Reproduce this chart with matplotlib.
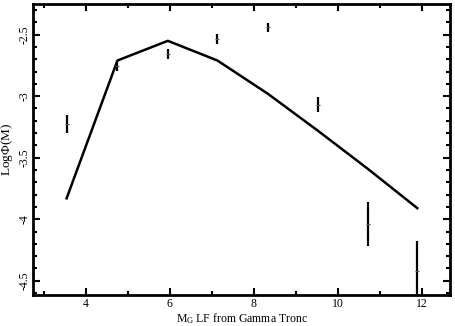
import matplotlib
matplotlib.use('Agg')
import matplotlib.pyplot as plt
import matplotlib.ticker as mticker

plt.rcParams.update({'font.family': 'Liberation Serif', 'font.size': 8,
                     'mathtext.fontset': 'custom', 'mathtext.rm': 'Liberation Serif',
                     'mathtext.it': 'Liberation Serif'})

# model LF (solid line)
line_x = [3.54, 4.75, 5.95, 7.13, 8.33, 9.52, 10.71, 11.89]
line_y = [-3.83, -2.71, -2.55, -2.71, -2.98, -3.28, -3.59, -3.91]

# observed points with error bars
pt_x = [3.55, 4.75, 5.95, 7.13, 8.33, 9.52, 10.71, 11.89]
pt_y = [-3.225, -2.752, -2.655, -2.535, -2.441, -3.068, -4.04, -4.418]
pt_err = [0.072, 0.04, 0.04, 0.037, 0.034, 0.063, 0.18, 0.24]

fig = plt.figure(figsize=(4.56, 3.26), dpi=100)
ax = fig.add_axes([0.0724, 0.095, 0.9146, 0.893])

ax.plot(line_x, line_y, color='black', lw=1.8)
ax.errorbar(pt_x, pt_y, yerr=pt_err, fmt='_', color='#555555', ms=3, mew=0.8,
            ecolor='black', elinewidth=1.6, capsize=0)

ax.set_xlim(2.74, 12.67)
ax.set_ylim(-4.616, -2.25)
ax.xaxis.set_major_locator(mticker.MultipleLocator(2))
ax.xaxis.set_minor_locator(mticker.MultipleLocator(1))
ax.yaxis.set_major_locator(mticker.MultipleLocator(0.5))
ax.yaxis.set_minor_locator(mticker.MultipleLocator(0.1))
ax.yaxis.set_major_formatter(mticker.FuncFormatter(lambda v, p: '%g' % v))
ax.tick_params(which='both', direction='in', top=True, right=True, width=1.5)
ax.tick_params(which='major', length=5, labelsize=8.5, pad=2)
ax.tick_params(which='minor', length=3)
for lab in ax.get_yticklabels():
    lab.set_rotation(90)
    lab.set_va('center')
for sp in ax.spines.values():
    sp.set_linewidth(2)

ax.set_xlabel(r'M$_\mathregular{G}$ LF from Gamma Tronc', fontsize=8.5, labelpad=1)
ax.set_ylabel(r'Log$\Phi$(M)', fontsize=9.5, labelpad=2)

fig.savefig('out.png', dpi=100)
